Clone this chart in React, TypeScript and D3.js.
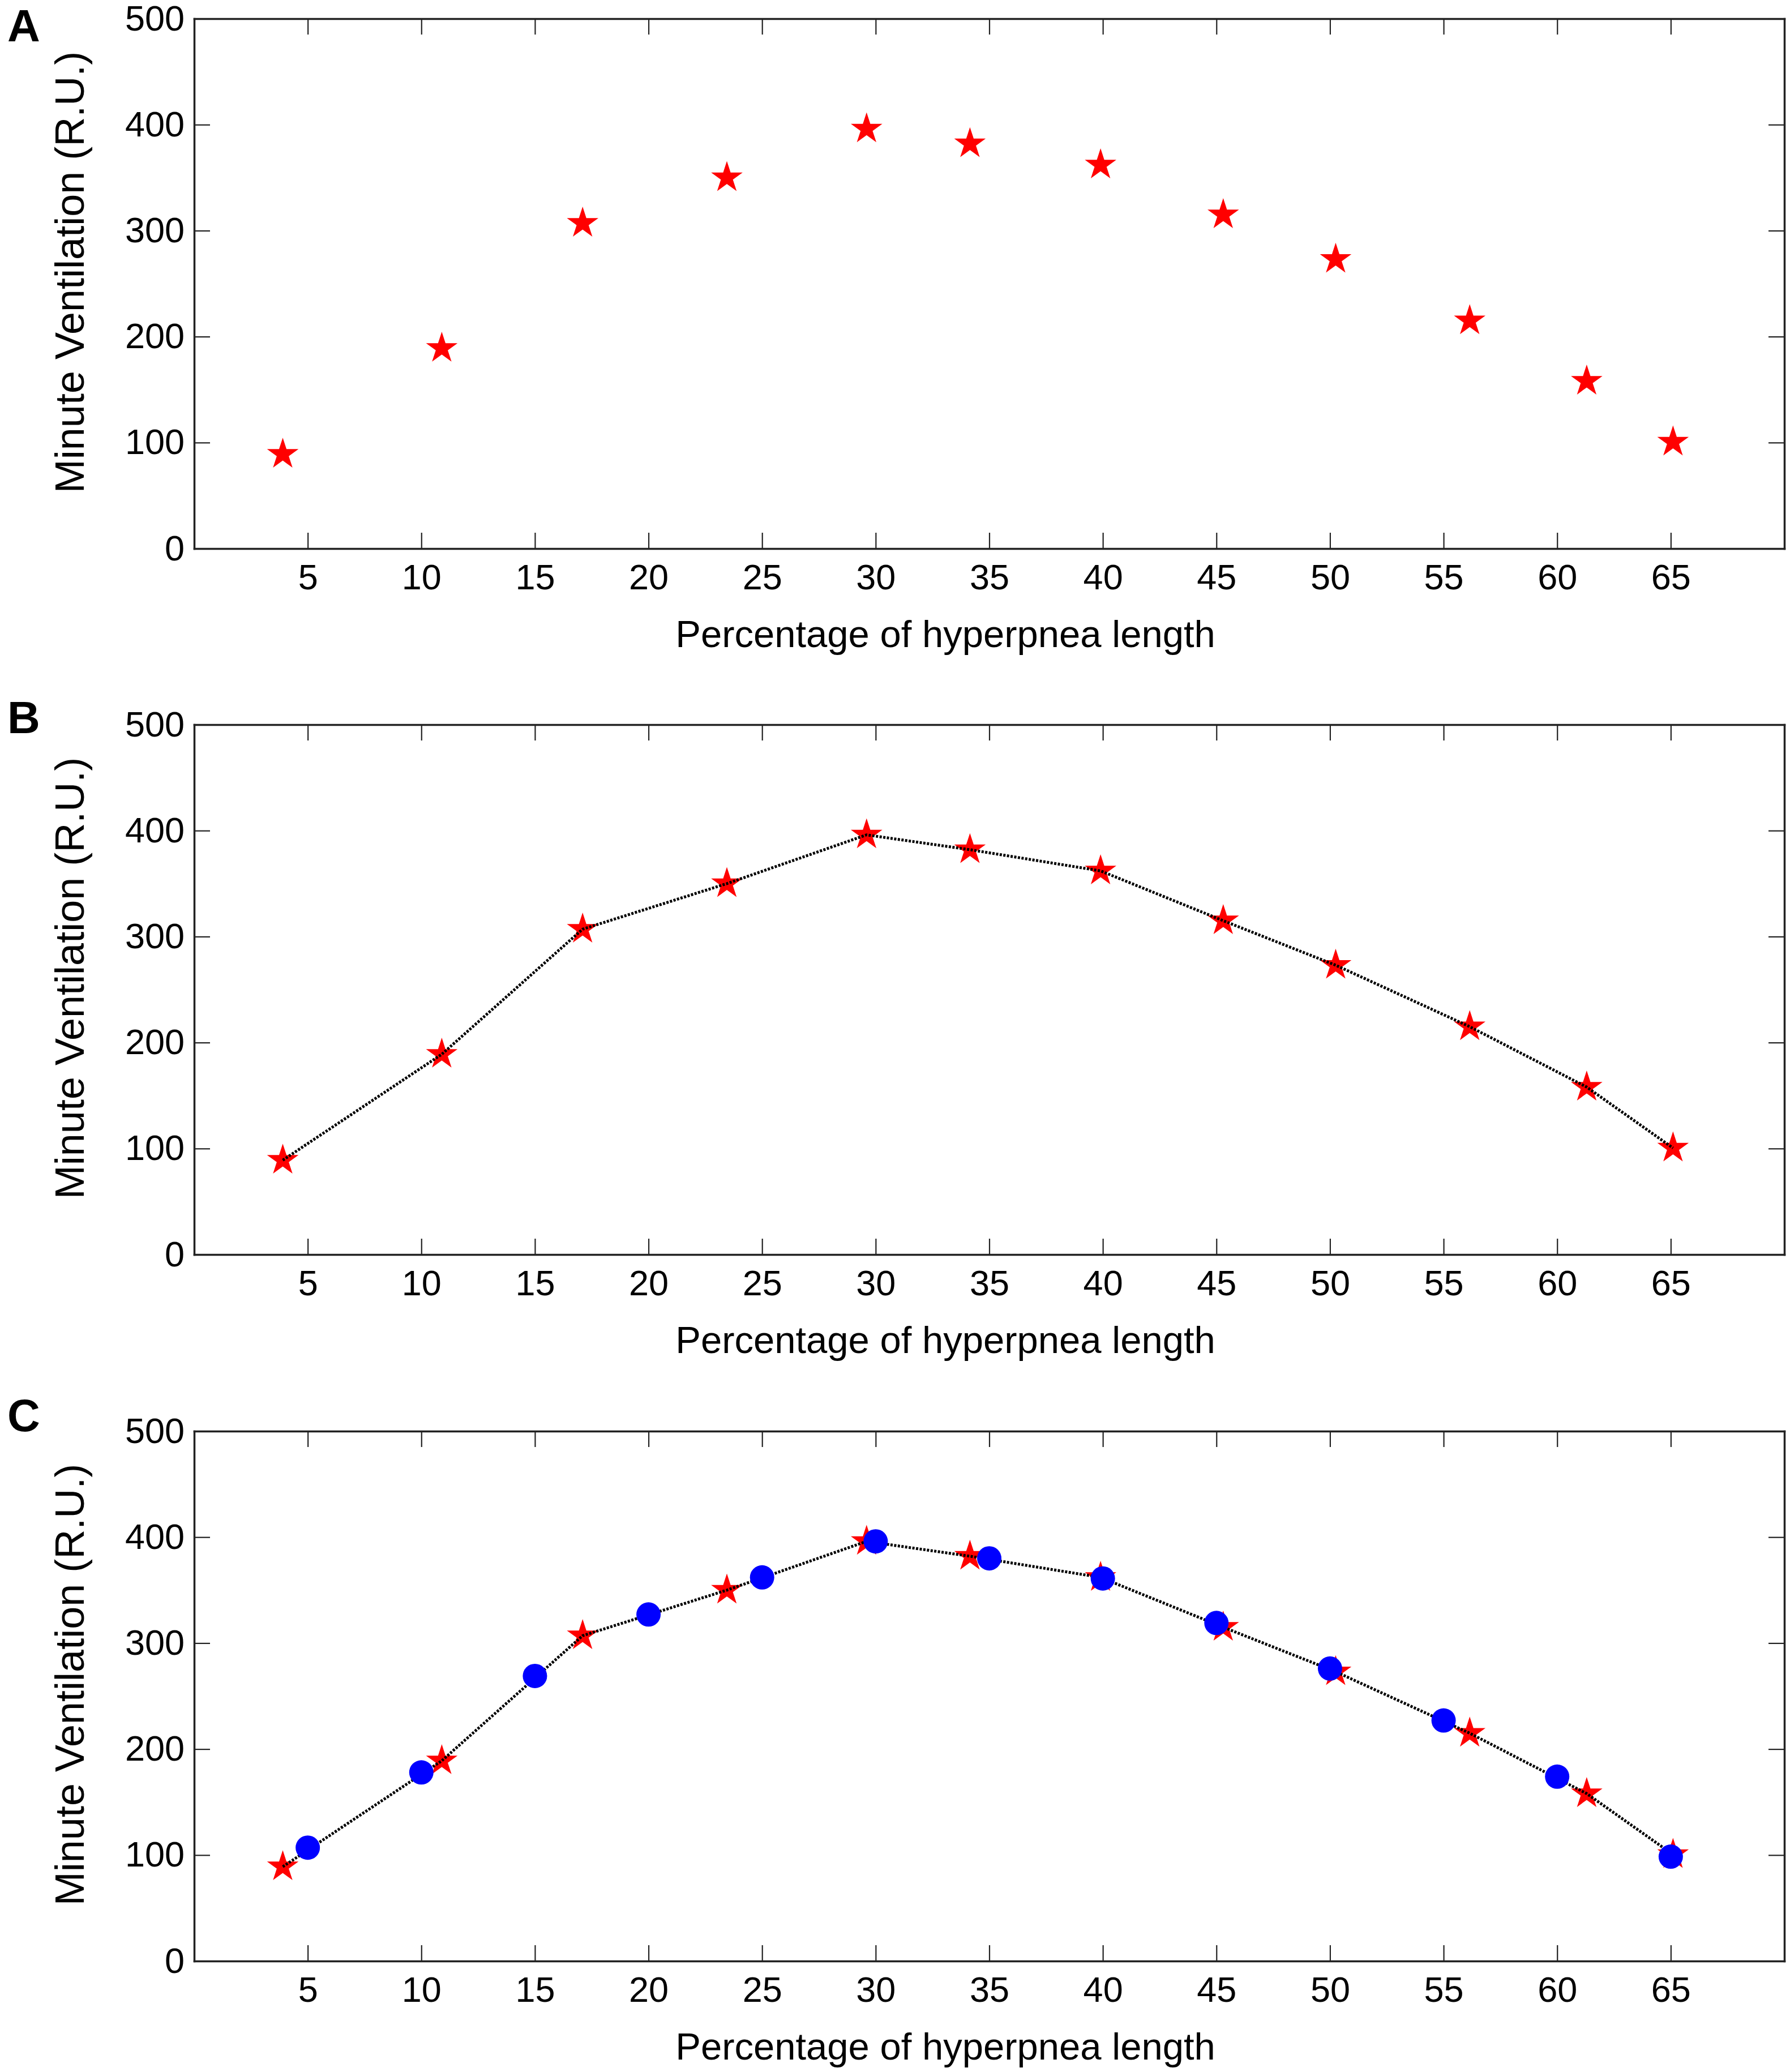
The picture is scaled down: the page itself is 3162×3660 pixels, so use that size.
import { useEffect, useRef } from "react"
import * as d3 from "d3"

// measured star series (shared by all three panels)
const starX = [3.9, 10.9, 17.1, 23.45, 29.6, 34.15, 39.9, 45.3, 50.25, 56.15, 61.3, 65.1]
const starY = [89, 189, 307, 350, 396, 382, 362, 315, 273, 215, 158, 100.5]

// blue circles in panel C
const dotX = [5, 10, 15, 20, 25, 30, 35, 40, 45, 50, 55, 60, 65]
const dotY = [107, 178, 269, 327, 362, 396, 380, 361, 319, 276, 227, 174, 98.5]

const xTicks = [5, 10, 15, 20, 25, 30, 35, 40, 45, 50, 55, 60, 65]
const yTicks = [0, 100, 200, 300, 400, 500]
const panelNames = ["A", "B", "C"]

const xLabel = "Percentage of hyperpnea length"
const yLabel = "Minute Ventilation (R.U.)"

const W = 3162
const H = 3660
const FONT = "'Liberation Sans', Arial, Helvetica, sans-serif"

export default function App() {
  const svgRef = useRef<SVGSVGElement>(null)

  useEffect(() => {
    if (!svgRef.current) return
    const svg = d3.select(svgRef.current)
    svg.selectAll("*").remove()

    const left = 343
    const right = 3152
    const plotH = 936
    const tops = [33, 1280, 2528]
    const letterBase = [73, 1295, 2528]

    const x = d3.scaleLinear().domain([0, 70]).range([left, right])

    const stars = starX.map((v, i) => ({ x: v, y: starY[i] }))
    const dots = dotX.map((v, i) => ({ x: v, y: dotY[i] }))

    panelNames.forEach((name, p) => {
      const top = tops[p]
      const bottom = top + plotH
      const y = d3.scaleLinear().domain([0, 500]).range([bottom, top])
      const g = svg.append("g")

      // axes, matlab style: ticks inside, box on
      const styleAxis = (a: d3.Selection<SVGGElement, unknown, null, undefined>) => {
        a.select(".domain").attr("stroke", "#222").attr("stroke-width", 3.5)
        a.selectAll(".tick line").attr("stroke", "#222").attr("stroke-width", 2.2)
        a.selectAll(".tick text")
          .attr("fill", "#000")
          .attr("font-family", FONT)
          .attr("font-size", 63)
      }

      g.append("g")
        .attr("transform", `translate(0,${bottom})`)
        .call(d3.axisBottom(x).tickValues(xTicks).tickSizeInner(-28).tickSizeOuter(0).tickPadding(27))
        .call(styleAxis)
      g.append("g")
        .attr("transform", `translate(0,${top})`)
        .call(d3.axisTop(x).tickValues(xTicks).tickSizeInner(-28).tickSizeOuter(0).tickFormat(() => ""))
        .call(styleAxis)
      g.append("g")
        .attr("transform", `translate(${left},0)`)
        .call(d3.axisLeft(y).tickValues(yTicks).tickSizeInner(-28).tickSizeOuter(0).tickPadding(17))
        .call(styleAxis)
      g.append("g")
        .attr("transform", `translate(${right},0)`)
        .call(d3.axisRight(y).tickValues(yTicks).tickSizeInner(-28).tickSizeOuter(0).tickFormat(() => ""))
        .call(styleAxis)
      g.selectAll(".domain").attr("stroke-linecap", "square")

      // labels
      g.append("text")
        .attr("x", 1670)
        .attr("y", bottom + 174)
        .attr("text-anchor", "middle")
        .attr("font-family", FONT)
        .attr("font-size", 67)
        .text(xLabel)
      g.append("text")
        .attr("transform", `translate(148,${(top + bottom) / 2 - 20}) rotate(-90)`)
        .attr("text-anchor", "middle")
        .attr("font-family", FONT)
        .attr("font-size", 72)
        .text(yLabel)
      g.append("text")
        .attr("x", 13)
        .attr("y", letterBase[p])
        .attr("font-family", FONT)
        .attr("font-weight", "bold")
        .attr("font-size", 80)
        .text(name)

      // red stars
      g.selectAll(".star")
        .data(stars)
        .enter()
        .append("path")
        .attr("class", "star")
        .attr("d", d3.symbol(d3.symbolStar, 960)())
        .attr("transform", (d) => `translate(${x(d.x)},${y(d.y)})`)
        .attr("fill", "#ff0000")

      if (p > 0) {
        const line = d3
          .line<{ x: number; y: number }>()
          .x((d) => x(d.x))
          .y((d) => y(d.y))
        g.append("path")
          .datum(stars)
          .attr("d", line)
          .attr("fill", "none")
          .attr("stroke", "#000")
          .attr("stroke-width", 5)
          .attr("stroke-dasharray", "4 2.5")
      }

      if (p === 2) {
        g.selectAll(".dot")
          .data(dots)
          .enter()
          .append("circle")
          .attr("class", "dot")
          .attr("cx", (d) => x(d.x))
          .attr("cy", (d) => y(d.y))
          .attr("r", 21.5)
          .attr("fill", "#0000ff")
      }
    })
  }, [])

  return (
    <div style={{ position: "absolute", left: 0, top: 0, background: "#fff" }}>
      <svg ref={svgRef} width={W} height={H} style={{ display: "block" }} />
    </div>
  )
}
